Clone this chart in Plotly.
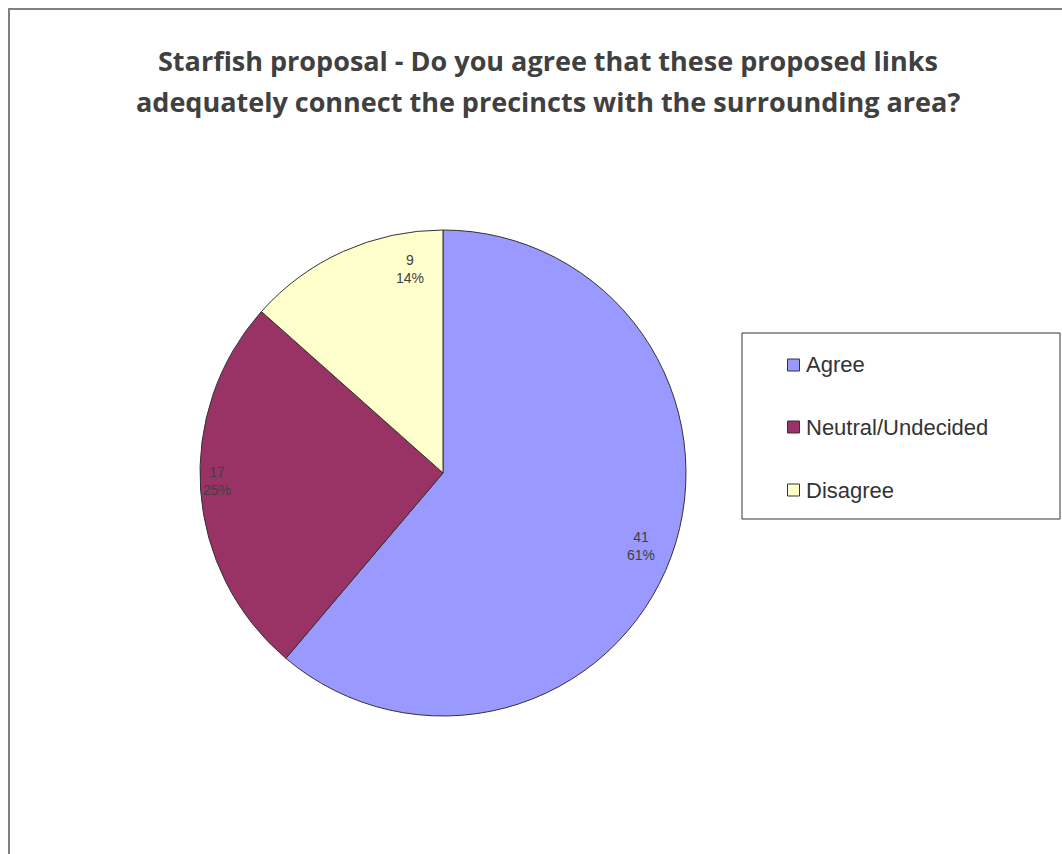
import math
import plotly.graph_objects as go

# ---- data ----
categories = ["Agree", "Neutral/Undecided", "Disagree"]
counts = [41, 17, 9]
percent_labels = ["61%", "25%", "14%"]
title_lines = ["Starfish proposal - Do you agree that these proposed links",
               "adequately connect the precincts with the surrounding area?"]

# ---- style ----
colors = ["#9999FF", "#993366", "#FFFFCC"]
W, H = 1062, 854
cx, cy, R = 443, 473, 243           # pie centre / radius in px
label_radius = [0.87, 0.93, 0.85]   # label distance as fraction of radius
label_shift = [0, 2, 15]            # degrees clockwise nudge
label_font = dict(family="Liberation Sans, Arial", size=14, color="#404040")


def px2x(x):
    return x / W


def px2y(y):
    return 1 - y / H


fig = go.Figure()
fig.add_trace(go.Pie(
    labels=categories, values=counts, sort=False, direction="clockwise",
    rotation=0, marker=dict(colors=colors, line=dict(color="#333333", width=1)),
    textinfo="none", hoverinfo="label+value+percent", showlegend=False,
    domain=dict(x=[(cx - R) / W, (cx + R) / W], y=[(H - cy - R) / H, (H - cy + R) / H]),
))

annotations = []
total = sum(counts)
cum = 0
for i, (v, p) in enumerate(zip(counts, percent_labels)):
    mid = (cum + v / 2) / total * 360 + label_shift[i]
    cum += v
    th = math.radians(mid)
    px = cx + label_radius[i] * R * math.sin(th)
    py = cy - label_radius[i] * R * math.cos(th)
    annotations.append(dict(x=px2x(px), y=px2y(py), xref="paper", yref="paper",
                            text=f"{v}<br>{p}", showarrow=False, font=label_font,
                            align="center", xanchor="center", yanchor="middle"))

# title (two lines)
title_font = dict(family="Open Sans", size=27, color="#404040")
for line, yc in zip(title_lines, [61, 101]):
    annotations.append(dict(x=px2x(548), y=px2y(yc), xref="paper", yref="paper",
                            text=f"<b>{line}</b>", showarrow=False, font=title_font,
                            xanchor="center", yanchor="middle"))

# frame + manual legend
shapes = [
    dict(type="rect", xref="paper", yref="paper", x0=px2x(9), x1=1.05, y0=-0.05, y1=px2y(9),
         line=dict(color="#808080", width=2), layer="below"),
    dict(type="rect", xref="paper", yref="paper", x0=px2x(742), x1=px2x(1060),
         y0=px2y(519), y1=px2y(333), line=dict(color="#333333", width=1)),
]
leg_y = [365, 427, 490]
for c, name, ly in zip(colors, categories, leg_y):
    shapes.append(dict(type="rect", xref="paper", yref="paper",
                       x0=px2x(787.5), x1=px2x(799.5), y0=px2y(ly + 6), y1=px2y(ly - 6),
                       fillcolor=c, line=dict(color="#333333", width=1)))
    annotations.append(dict(x=px2x(804), y=px2y(ly), xref="paper", yref="paper",
                            text=name, showarrow=False, xanchor="left", yanchor="middle",
                            font=dict(family="Liberation Sans, Arial", size=22, color="#333333")))

fig.update_layout(width=W, height=H, margin=dict(l=0, r=0, t=0, b=0),
                  paper_bgcolor="white", plot_bgcolor="white",
                  annotations=annotations, shapes=shapes, showlegend=False)
fig.write_html("out.html", config={"displayModeBar": False},
               post_script="document.body.style.margin='0';document.body.style.overflow='hidden';")
